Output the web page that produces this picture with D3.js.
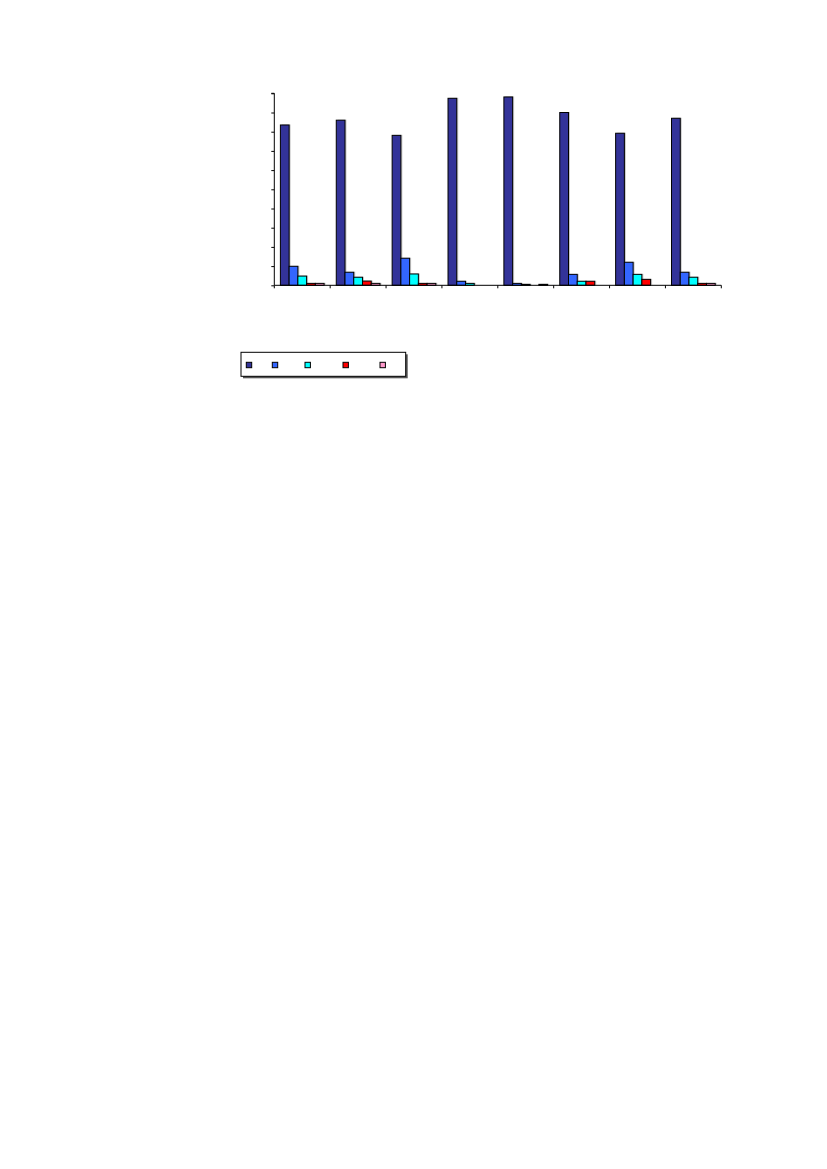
<!DOCTYPE html>
<html><head><meta charset="utf-8">
<script src="https://cdn.jsdelivr.net/npm/d3@7/dist/d3.min.js"></script>
<style>body{margin:0;background:#fff;}svg{display:block;}</style>
</head><body>
<svg id="c" width="827" height="1169"></svg>
<script>
const categories = ["1","2","3","4","5","6","7","8"];
const seriesNames = ["S1","S2","S3","S4","S5"];
const seriesColors = ["#333399","#3366FF","#00FFFF","#FF0000","#FF99CC"];
const s1 = [8.35, 8.6, 7.81, 9.74, 9.81, 9.0, 7.92, 8.7];
const s2 = [0.99, 0.68, 1.41, 0.21, 0.1, 0.57, 1.2, 0.68];
const s3 = [0.48, 0.42, 0.59, 0.1, 0.05, 0.21, 0.57, 0.42];
const s4 = [0.1, 0.22, 0.1, 0, 0, 0.21, 0.31, 0.1];
const s5 = [0.1, 0.1, 0.1, 0, 0.05, 0, 0, 0.1];
const yTicks = [0,1,2,3,4,5,6,7,8,9,10];
const series = [s1,s2,s3,s4,s5];

const svg = d3.select("#c");
const x0 = 274.3, x1 = 721.3, yTop = 93.3, yBot = 285.3;
const x = d3.scaleBand().domain(categories).range([x0, x1]).paddingInner(0).paddingOuter(0);
const y = d3.scaleLinear().domain([0, 10]).range([yBot, yTop]);
const bw = x.bandwidth();
const barW = 8.74;
const gap = bw - barW * 5;
const xs = d3.scaleBand().domain(seriesNames).range([gap/2, gap/2 + barW*5]);

const g = svg.append("g");
categories.forEach((c, i) => {
  series.forEach((s, j) => {
    const v = s[i];
    if (v <= 0) return;
    const bx = x(c) + xs(seriesNames[j]);
    const by = y(v);
    const h = y(0) - by;
    g.append("rect").attr("x", bx + 1.5).attr("y", by - 0.5).attr("width", barW).attr("height", h)
      .attr("fill", "#c8c8c8");
    g.append("rect").attr("x", bx).attr("y", by).attr("width", barW).attr("height", h)
      .attr("fill", seriesColors[j]).attr("stroke", "#000").attr("stroke-width", 1);
  });
});

// y axis
const yAxis = d3.axisLeft(y).tickValues(yTicks).tickSize(3).tickFormat(() => "");
const ya = svg.append("g").attr("transform", `translate(${x0},0)`).call(yAxis);
ya.select(".domain").attr("stroke", "#000").attr("d", `M-3,${yTop}H0V${yBot}`);
ya.selectAll(".tick line").attr("stroke", "#000");

// x axis
const xAxis = d3.axisBottom(x).tickSize(0).tickFormat(() => "");
const xa = svg.append("g").attr("transform", `translate(0,${yBot})`).call(xAxis);
xa.select(".domain").attr("stroke", "#000").attr("d", `M${x0},0H${x1}`);
const bounds = categories.map(c => x(c)).concat([x1]);
xa.selectAll(".bt").data(bounds).enter().append("line")
  .attr("x1", d => d).attr("x2", d => d).attr("y1", 0).attr("y2", 3).attr("stroke", "#000");

// legend
const lg = svg.append("g");
lg.append("rect").attr("x", 243).attr("y", 354.3).attr("width", 164.7).attr("height", 24).attr("fill", "#555");
lg.append("rect").attr("x", 241).attr("y", 352.3).attr("width", 164.7).attr("height", 24)
  .attr("fill", "#fff").attr("stroke", "#000").attr("stroke-width", 1);
const legendX = [249, 275, 307.7, 345.7, 382.7];
seriesNames.forEach((n, j) => {
  lg.append("rect").attr("x", legendX[j] - 2.7).attr("y", 362.3).attr("width", 5.4).attr("height", 5.4)
    .attr("fill", seriesColors[j]).attr("stroke", "#000").attr("stroke-width", 1);
  lg.append("text").attr("x", legendX[j] + 5).attr("y", 367.5).attr("font-family", "Arial, Liberation Sans")
    .attr("font-size", 8).text("");
});
</script>
</body></html>
